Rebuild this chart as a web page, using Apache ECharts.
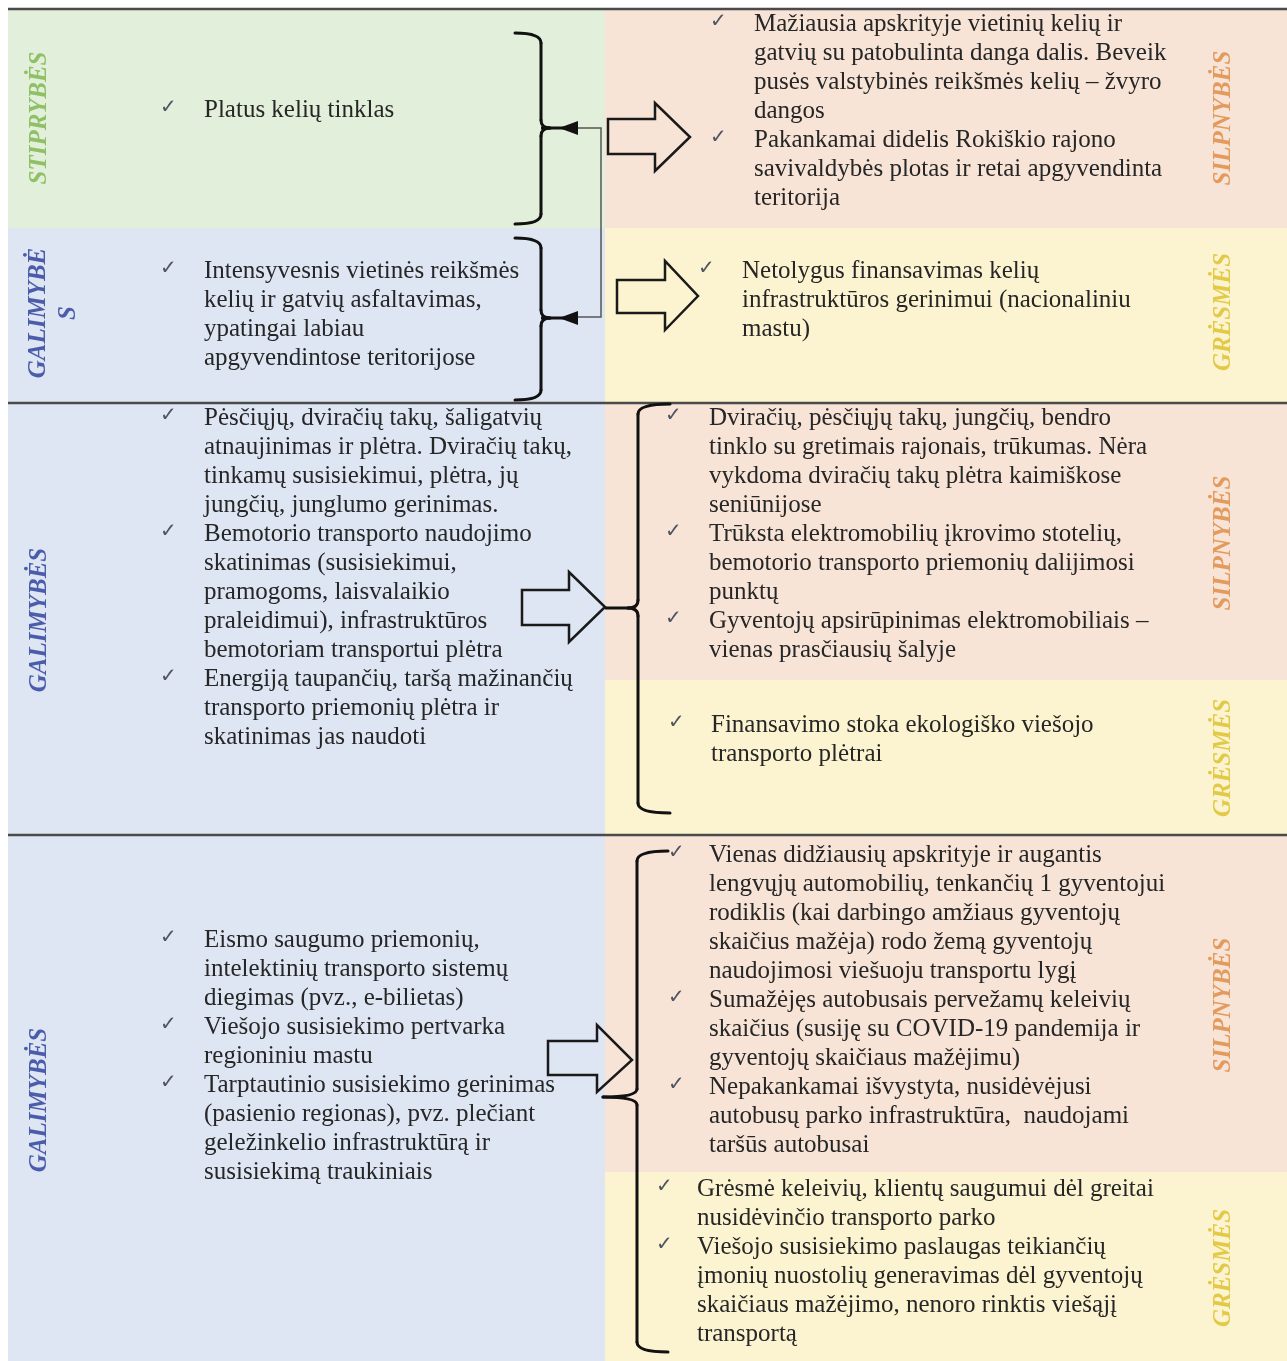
<!DOCTYPE html>
<html>
<head>
<meta charset="utf-8">
<style>
html,body{margin:0;padding:0;background:#ffffff;}
#main{width:1287px;height:1361px;}
</style>
<script src="https://cdn.jsdelivr.net/npm/echarts@6/dist/echarts.min.js"></script>
</head>
<body>
<div id="main"></div>
<script>
// ---------- DATA (texts) ----------
const strengths1 = [["Platus kelių tinklas"]];
const weaknesses1 = [
  ["Mažiausia apskrityje vietinių kelių ir", "gatvių su patobulinta danga dalis. Beveik", "pusės valstybinės reikšmės kelių – žvyro", "dangos"],
  ["Pakankamai didelis Rokiškio rajono", "savivaldybės plotas ir retai apgyvendinta", "teritorija"]
];
const opportunities1 = [["Intensyvesnis vietinės reikšmės", "kelių ir gatvių asfaltavimas,", "ypatingai labiau", "apgyvendintose teritorijose"]];
const threats1 = [["Netolygus finansavimas kelių", "infrastruktūros gerinimui (nacionaliniu", "mastu)"]];
const opportunities2 = [
  ["Pėsčiųjų, dviračių takų, šaligatvių", "atnaujinimas ir plėtra. Dviračių takų,", "tinkamų susisiekimui, plėtra, jų", "jungčių, junglumo gerinimas."],
  ["Bemotorio transporto naudojimo", "skatinimas (susisiekimui,", "pramogoms, laisvalaikio", "praleidimui), infrastruktūros", "bemotoriam transportui plėtra"],
  ["Energiją taupančių, taršą mažinančių", "transporto priemonių plėtra ir", "skatinimas jas naudoti"]
];
const weaknesses2 = [
  ["Dviračių, pėsčiųjų takų, jungčių, bendro", "tinklo su gretimais rajonais, trūkumas. Nėra", "vykdoma dviračių takų plėtra kaimiškose", "seniūnijose"],
  ["Trūksta elektromobilių įkrovimo stotelių,", "bemotorio transporto priemonių dalijimosi", "punktų"],
  ["Gyventojų apsirūpinimas elektromobiliais –", "vienas prasčiausių šalyje"]
];
const threats2 = [["Finansavimo stoka ekologiško viešojo", "transporto plėtrai"]];
const opportunities3 = [
  ["Eismo saugumo priemonių,", "intelektinių transporto sistemų", "diegimas (pvz., e-bilietas)"],
  ["Viešojo susisiekimo pertvarka", "regioniniu mastu"],
  ["Tarptautinio susisiekimo gerinimas", "(pasienio regionas), pvz. plečiant", "geležinkelio infrastruktūrą ir", "susisiekimą traukiniais"]
];
const weaknesses3 = [
  ["Vienas didžiausių apskrityje ir augantis", "lengvųjų automobilių, tenkančių 1 gyventojui", "rodiklis (kai darbingo amžiaus gyventojų", "skaičius mažėja) rodo žemą gyventojų", "naudojimosi viešuoju transportu lygį"],
  ["Sumažėjęs autobusais pervežamų keleivių", "skaičius (susiję su COVID-19 pandemija ir", "gyventojų skaičiaus mažėjimu)"],
  ["Nepakankamai išvystyta, nusidėvėjusi", "autobusų parko infrastruktūra,  naudojami", "taršūs autobusai"]
];
const threats3 = [
  ["Grėsmė keleivių, klientų saugumui dėl greitai", "nusidėvinčio transporto parko"],
  ["Viešojo susisiekimo paslaugas teikiančių", "įmonių nuostolių generavimas dėl gyventojų", "skaičiaus mažėjimo, nenoro rinktis viešąjį", "transportą"]
];
const leftLabels = ["STIPRYBĖS", "GALIMYBĖ\nS", "GALIMYBĖS", "GALIMYBĖS"];
const rightLabels = ["SILPNYBĖS", "GRĖSMĖS", "SILPNYBĖS", "GRĖSMĖS", "SILPNYBĖS", "GRĖSMĖS"];
const checkMark = "✓";

// ---------- LAYOUT ----------
const FONT = '25px "Liberation Serif", "Times New Roman", serif';
const LABEL_FONT = 'italic bold 25px "Liberation Serif", "Times New Roman", serif';
const LH = 29;
const TEXT_COLOR = '#262626';
const C_GREEN = '#e2efda', C_BLUE = '#dee5f3', C_PEACH = '#f7e4d7', C_YELLOW = '#fcf4d1';

const bgRects = [
  [8, 9, 597, 219, C_GREEN], [8, 228, 597, 175, C_BLUE],
  [605, 9, 682, 219, C_PEACH], [605, 228, 682, 175, C_YELLOW],
  [8, 403, 597, 432, C_BLUE], [605, 403, 682, 277, C_PEACH], [605, 680, 682, 155, C_YELLOW],
  [8, 835, 597, 526, C_BLUE], [605, 835, 682, 337, C_PEACH], [605, 1172, 682, 189, C_YELLOW]
];
const blocks = [
  {items: strengths1, cx: 160, tx: 204, top: 96},
  {items: weaknesses1, cx: 710, tx: 754, top: 10},
  {items: opportunities1, cx: 160, tx: 204, top: 257},
  {items: threats1, cx: 698, tx: 742, top: 257},
  {items: opportunities2, cx: 160, tx: 204, top: 404},
  {items: weaknesses2, cx: 665, tx: 709, top: 404},
  {items: threats2, cx: 668, tx: 711, top: 711},
  {items: opportunities3, cx: 160, tx: 204, top: 926},
  {items: weaknesses3, cx: 668, tx: 709, top: 841},
  {items: threats3, cx: 656, tx: 697, top: 1175}
];
const leftLabelPos = [[40, 118, '#8fc066'], [54, 313, '#4b5cab'], [40, 620, '#4b5cab'], [40, 1100, '#4b5cab']];
const rightLabelPos = [[1224, 118, '#e39a5d'], [1224, 312, '#e2c946'], [1224, 543, '#e39a5d'], [1224, 758, '#e2c946'], [1224, 1005, '#e39a5d'], [1224, 1268, '#e2c946']];

const elements = [];
bgRects.forEach(r => elements.push({type: 'rect', shape: {x: r[0], y: r[1], width: r[2], height: r[3]}, style: {fill: r[4]}, silent: true}));

// separators
[9, 403, 835].forEach(y => elements.push({type: 'line', shape: {x1: 8, y1: y, x2: 1287, y2: y}, style: {stroke: '#4a4a4a', lineWidth: 2.5}}));

// texts
blocks.forEach(b => {
  let line = 0;
  b.items.forEach(it => {
    const top = b.top + line * LH;
    elements.push({type: 'text', x: b.cx, y: top + 2, style: {text: checkMark, font: '20px "DejaVu Sans", sans-serif', fill: '#4f5462'}});
    elements.push({type: 'text', x: b.tx, y: top, style: {text: it.join('\n'), font: FONT, fill: TEXT_COLOR, lineHeight: LH, verticalAlign: 'top', align: 'left'}});
    line += it.length;
  });
});

// vertical labels
leftLabels.forEach((t, i) => {
  const p = leftLabelPos[i];
  elements.push({type: 'text', x: p[0], y: p[1], rotation: Math.PI / 2, style: {text: t, font: LABEL_FONT, fill: p[2], align: 'center', verticalAlign: 'middle', lineHeight: 30}});
});
rightLabels.forEach((t, i) => {
  const p = rightLabelPos[i];
  elements.push({type: 'text', x: p[0], y: p[1], rotation: Math.PI / 2, style: {text: t, font: LABEL_FONT, fill: p[2], align: 'center', verticalAlign: 'middle'}});
});

// braces built from lines + quadratic curves
const braceStyle = {stroke: '#111', lineWidth: 3, fill: 'none', lineCap: 'round'};
function brace(x, top, mid, bot, hookX, tipX) {
  const segs = [];
  segs.push({type: 'bezierCurve', shape: {x1: hookX, y1: top, cpx1: x, cpy1: top, x2: x, y2: top + 10}});
  segs.push({type: 'line', shape: {x1: x, y1: top + 10, x2: x, y2: mid - 8}});
  segs.push({type: 'bezierCurve', shape: {x1: x, y1: mid - 8, cpx1: x, cpy1: mid, x2: tipX, y2: mid}});
  segs.push({type: 'bezierCurve', shape: {x1: tipX, y1: mid, cpx1: x, cpy1: mid, x2: x, y2: mid + 8}});
  segs.push({type: 'line', shape: {x1: x, y1: mid + 8, x2: x, y2: bot - 10}});
  segs.push({type: 'bezierCurve', shape: {x1: x, y1: bot - 10, cpx1: x, cpy1: bot, x2: hookX, y2: bot}});
  segs.forEach(s => { s.style = braceStyle; elements.push(s); });
}
brace(541, 33, 128, 224, 515, 550);
brace(541, 238, 318, 400, 515, 550);
brace(638, 404, 608, 813, 670, 628);
brace(637, 851, 1097, 1352, 668, 603);

// connectors between the top braces
elements.push({type: 'line', shape: {x1: 541, y1: 128, x2: 565, y2: 128}, style: {stroke: '#111', lineWidth: 3}});
elements.push({type: 'line', shape: {x1: 541, y1: 318, x2: 565, y2: 318}, style: {stroke: '#111', lineWidth: 3}});
elements.push({type: 'polygon', shape: {points: [[559, 128], [578, 121], [578, 135]]}, style: {fill: '#111'}});
elements.push({type: 'polygon', shape: {points: [[559, 318], [578, 311], [578, 325]]}, style: {fill: '#111'}});
elements.push({type: 'polyline', shape: {points: [[578, 128], [601, 128], [601, 317], [578, 317]]}, style: {stroke: '#555', lineWidth: 1.5, fill: 'none'}});
elements.push({type: 'line', shape: {x1: 605, y1: 608, x2: 630, y2: 608}, style: {stroke: '#111', lineWidth: 3}});

// hollow arrows: [bodyLeft, bodyTop, bodyBottom, headX, headTop, headBottom, tipX, tipY]
const arrows = [
  [608, 119, 154, 655, 103, 171, 690, 137],
  [617, 280, 313, 665, 261, 330, 698, 296],
  [522, 590, 625, 569, 572, 642, 605, 607],
  [548, 1041, 1075, 597, 1025, 1092, 632, 1060]
];
arrows.forEach(a => elements.push({type: 'polygon', shape: {points: [[a[0], a[1]], [a[3], a[1]], [a[3], a[4]], [a[6], a[7]], [a[3], a[5]], [a[3], a[2]], [a[0], a[2]]]}, style: {fill: 'none', stroke: '#1a1a1a', lineWidth: 2.5, lineJoin: 'miter'}}));

const chart = echarts.init(document.getElementById('main'), null, {renderer: 'canvas'});
chart.setOption({backgroundColor: '#ffffff', animation: false, graphic: {elements: elements}});
</script>
</body>
</html>
